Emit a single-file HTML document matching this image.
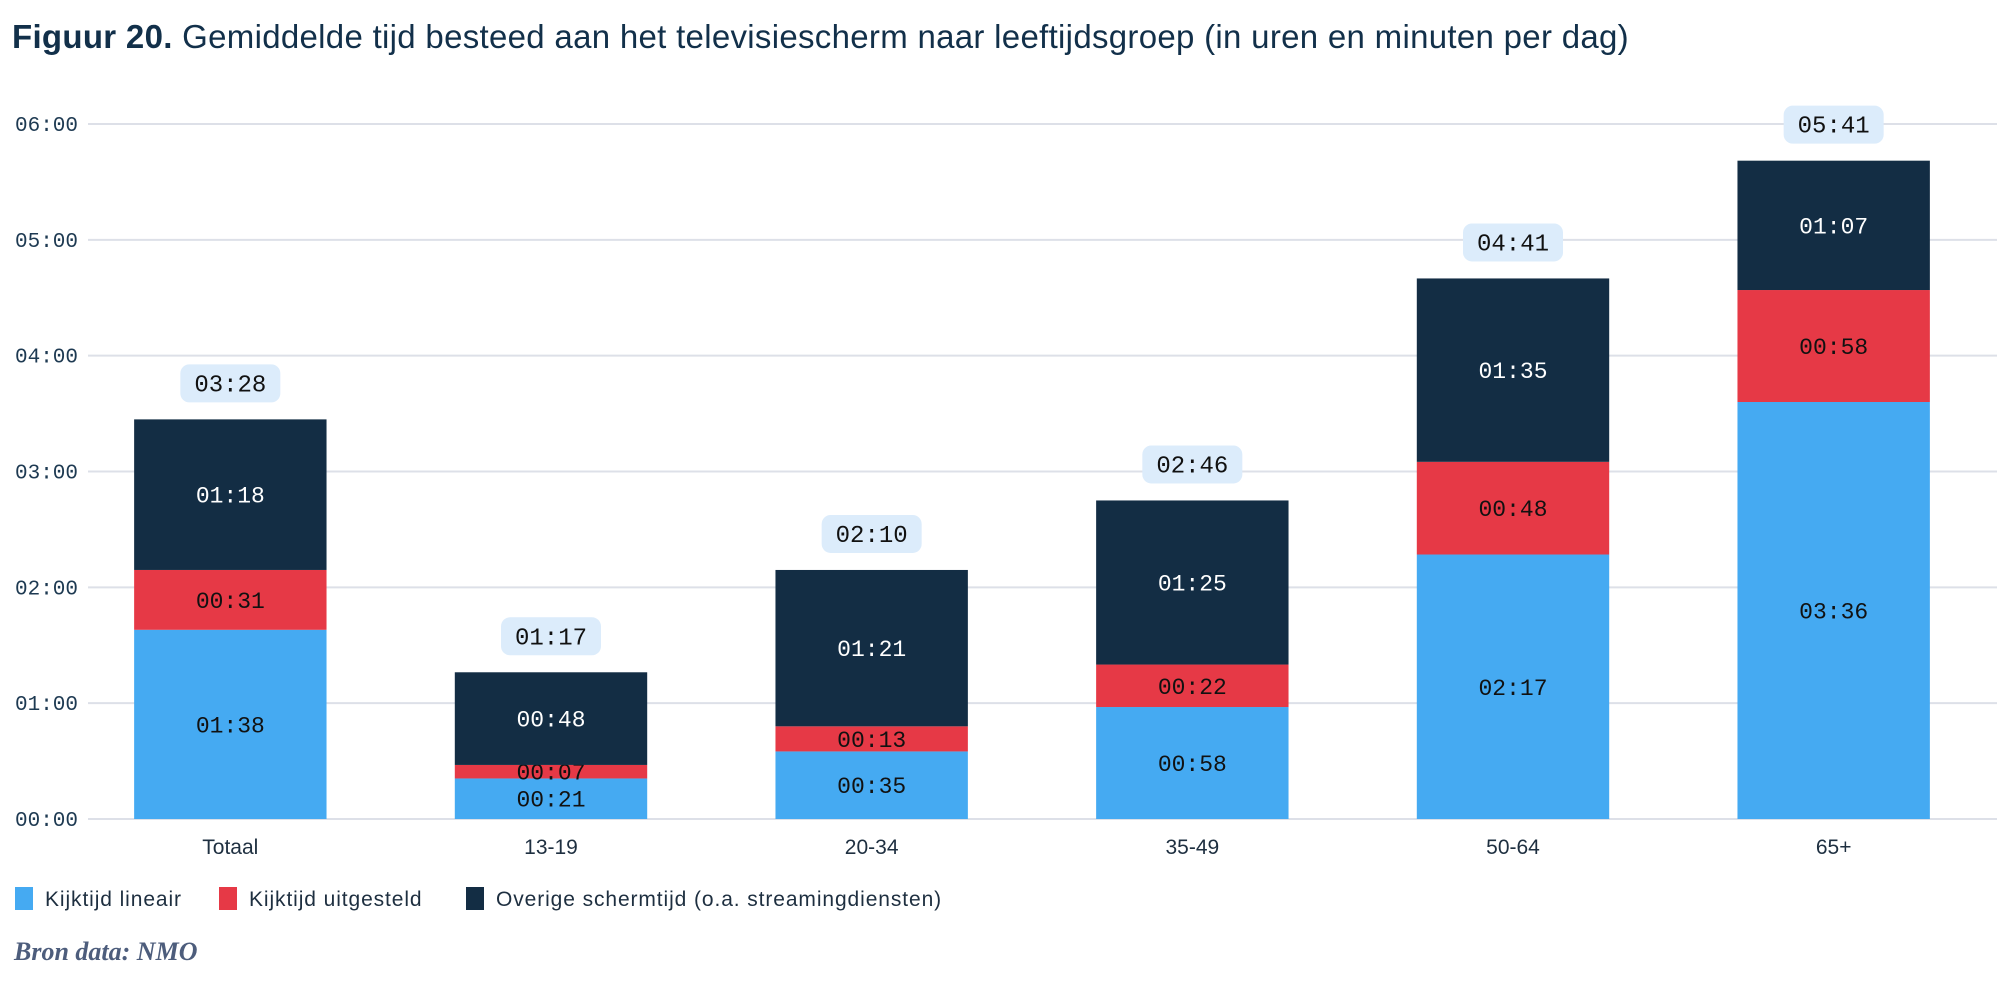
<!DOCTYPE html>
<html><head><meta charset="utf-8">
<style>
html,body{margin:0;padding:0;background:#fff;}
body{width:2000px;height:988px;overflow:hidden;position:relative;font-family:"Liberation Sans",sans-serif;}
#title{position:absolute;left:12px;top:18px;font-size:33px;letter-spacing:0.3px;color:#12304a;white-space:nowrap;}
#title b{font-weight:700;}
#source{position:absolute;left:14px;top:937px;font-family:"Liberation Serif",serif;font-style:italic;font-weight:bold;font-size:26px;color:#4d5d7c;}
</style></head>
<body>
<div id="title"><b>Figuur 20.</b> Gemiddelde tijd besteed aan het televisiescherm naar leeftijdsgroep (in uren en minuten per dag)</div>
<svg id="chart" width="2000" height="988" style="position:absolute;left:0;top:0"></svg>
<div id="source">Bron data: NMO</div>
<script>
const categories = ["Totaal","13-19","20-34","35-49","50-64","65+"];
const lineair = [98,21,35,58,137,216];
const uitgesteld = [31,7,13,22,48,58];
const overige = [78,48,81,85,95,67];
const totals = [208,77,130,166,281,341];
const yTicks = [0,60,120,180,240,300,360];
const seriesNames = ["Kijktijd lineair","Kijktijd uitgesteld","Overige schermtijd (o.a. streamingdiensten)"];

const NS="http://www.w3.org/2000/svg";
const svg=document.getElementById('chart');
const colors=["#45aaf2","#e63946","#132d44"];
const textCols=["#111","#111","#fff"];
const plotL=70, plotR=1994, y0=819, y360=124;
const band=(plotR-plotL)/categories.length;
function y(v){return y0-(v/360)*(y0-y360);}
function xc(i){return plotL+band*(i+0.5);}
function fmt(m){const h=Math.floor(m/60),mm=m%60;return String(h).padStart(2,'0')+':'+String(mm).padStart(2,'0');}
function el(t,a){const e=document.createElementNS(NS,t);for(const k in a)e.setAttribute(k,a[k]);svg.appendChild(e);return e;}

yTicks.forEach(v=>{
  const g=el('line',{x1:88,x2:1997,y1:y(v),y2:y(v),stroke:'#dde0e8','stroke-width':2});
  
  
  const t=el('text',{x:78,y:y(v)+7,'text-anchor':'end','font-family':'Liberation Mono, monospace','font-size':21,fill:'#1e3a52'});
  t.textContent=fmt(v);
  
  
});

const series=[lineair,uitgesteld,overige];
const bw=band*0.6;
categories.forEach((c,i)=>{
  let base=0;
  series.forEach((s,k)=>{
    const v=s[i];
    const r=el('rect',{x:xc(i)-bw/2,y:y(base+v),width:bw,height:y(base)-y(base+v),fill:colors[k]});
    
    
    const t=el('text',{x:xc(i),y:(y(base)+y(base+v))/2+8,'text-anchor':'middle','font-family':'Liberation Mono, monospace','font-size':23,fill:textCols[k]});
    t.textContent=fmt(v);
    
    
    base+=v;
  });
  const top=y(base);
  const p=el('rect',{x:xc(i)-50,y:top-55,width:100,height:38,rx:9,fill:'#dcecfb'});
  
  
  const tt=el('text',{x:xc(i),y:top-28,'text-anchor':'middle','font-family':'Liberation Mono, monospace','font-size':24,fill:'#111'});
  tt.textContent=fmt(totals[i]);
  
  
  const xl=el('text',{x:xc(i),y:854,'text-anchor':'middle','font-size':21,fill:'#1e2f40'});
  xl.textContent=c;
  
  
});

const legX=[15,219,466];
seriesNames.forEach((n,k)=>{
  const r=el('rect',{x:legX[k],y:887,width:18,height:23,fill:colors[k]});
  
  
  const t=el('text',{x:legX[k]+30,y:906,'font-size':21,'letter-spacing':0.9,fill:'#1e2f40'});
  t.textContent=n;
  
  
});
</script>
</body></html>
